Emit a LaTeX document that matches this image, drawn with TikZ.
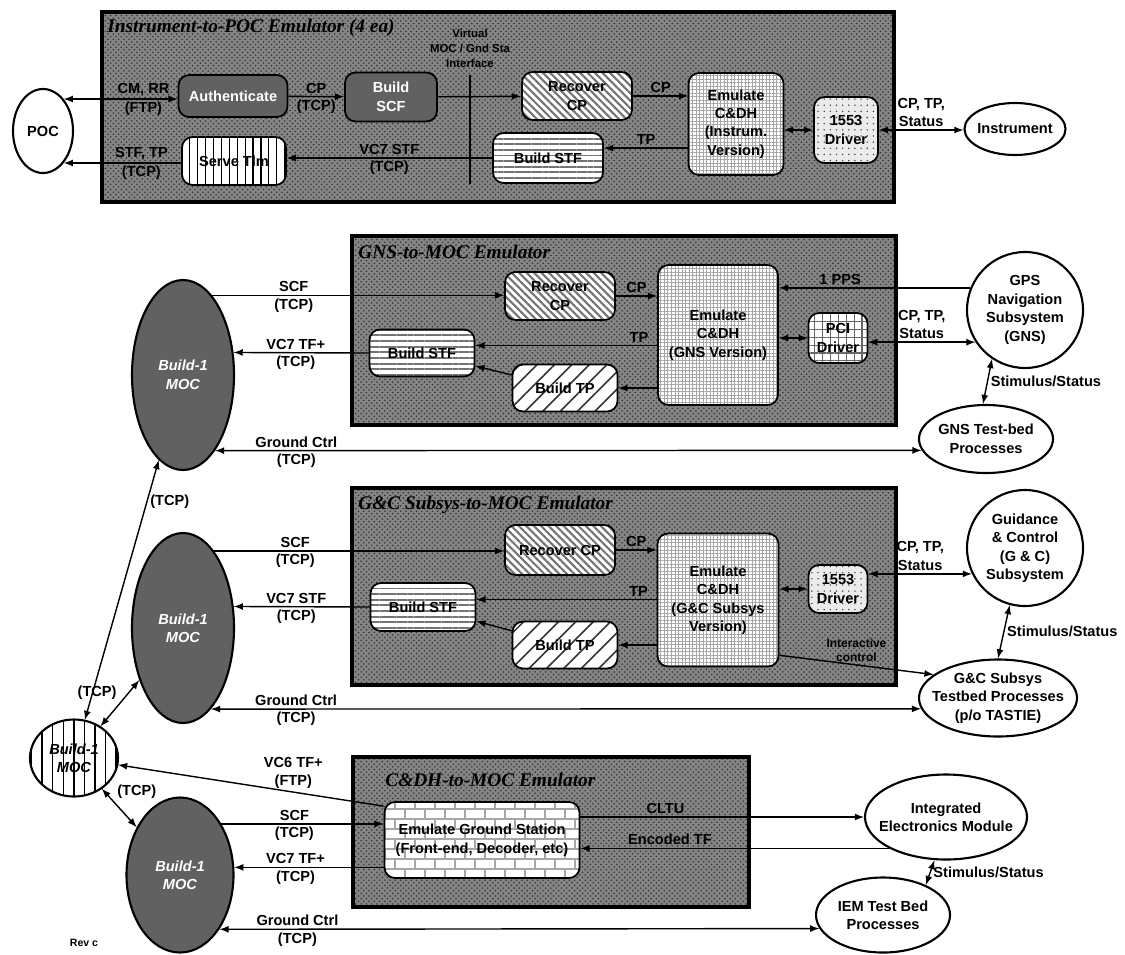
\documentclass[tikz,border=0pt]{standalone}
\usepackage{fontspec}
\setmainfont{Liberation Sans}
\newfontfamily\titlefont{Liberation Serif}
\usepackage{tikz}
\usetikzlibrary{patterns, patterns.meta, shapes.geometric, arrows}

\begin{document}
\begin{tikzpicture}[x=1cm, y=-1cm, >=latex,
    font=\bfseries\fontsize{8.3}{10.5}\selectfont,
    emulator/.style={rectangle, draw, line width=2pt, preaction={fill=black!48}, pattern=crosshatch dots, pattern color=black!80},
    boxtitle/.style={anchor=west, inner sep=0pt, font=\titlefont\bfseries\itshape\fontsize{11}{13}\selectfont},
    proc/.style={rectangle, rounded corners=6pt, draw, line width=1pt, align=center, inner sep=1pt},
    darkproc/.style={proc, fill=black!62, text=white},
    recover/.style={proc, preaction={fill=white}, pattern={Lines[angle=-45, distance=3pt, line width=1.2pt]}, pattern color=black!55},
    stfbox/.style={proc, preaction={fill=white}, pattern={Lines[angle=0, distance=3.2pt, line width=1.1pt]}, pattern color=black!55},
    tlmbox/.style={proc, preaction={fill=white}, pattern={Lines[angle=90, distance=4.5pt, line width=.7pt]}, pattern color=black},
    tpbox/.style={proc, preaction={fill=white}, pattern={Lines[angle=45, distance=7pt, line width=.9pt]}, pattern color=black!80},
    cdh/.style={proc, preaction={fill=white}, pattern={Hatch[angle=0, distance=2pt, line width=.35pt]}, pattern color=black!35},
    starbox/.style={proc, preaction={fill=black!8}, pattern={Dots[distance=3.5pt, radius=.45pt]}, pattern color=black!75},
    pcibox/.style={proc, preaction={fill=white}, pattern={Hatch[angle=0, distance=4.5pt, line width=.6pt]}, pattern color=black!60},
    gsbox/.style={proc, preaction={fill=white}, pattern=bricks, pattern color=black!35},
    ext/.style={ellipse, draw, line width=1.2pt, fill=white, align=center, inner sep=0pt},
    extc/.style={ext, circle},
    mocell/.style={ellipse, draw, line width=1.2pt, fill=black!62, text=white, align=center, font=\bfseries\itshape\fontsize{8.3}{10.5}\selectfont},
    mochub/.style={ellipse, draw, line width=1.2pt, preaction={fill=white}, pattern={Lines[angle=90, distance=6pt, line width=.8pt]}, pattern color=black, align=center, font=\bfseries\itshape\fontsize{8.3}{10.5}\selectfont},
    iface/.style={align=center, inner sep=0pt, font=\bfseries\fontsize{6.5}{8.5}\selectfont},
    link/.style={line width=.8pt},
    lbl/.style={inner sep=1.5pt, align=center},
    lblsmall/.style={lbl, font=\bfseries\fontsize{6.8}{7.8}\selectfont}
]
\useasboundingbox (0,0) rectangle (22.5,19.08);

\node[emulator, minimum width=15.84cm, minimum height=3.8cm] (instbox) at (9.96,2.14) {};
\node[boxtitle] (insttitle) at (2.14,0.56) {Instrument-to-POC Emulator (4 ea)};
\node[iface] (iface) at (9.4,0.96) {Virtual\\MOC / Gnd Sta\\Interface};
\node[ext, minimum width=1.2cm, minimum height=1.68cm] (poc) at (0.86,2.62) {POC};
\node[darkproc, minimum width=2.18cm, minimum height=0.84cm] (auth) at (4.66,1.92) {Authenticate};
\node[darkproc, minimum width=1.84cm, minimum height=0.98cm] (bscf) at (7.82,1.94) {Build\\SCF};
\node[recover, minimum width=2.2cm, minimum height=0.96cm] (recinst) at (11.54,1.92) {Recover\\CP};
\node[cdh, minimum width=1.9cm, minimum height=2.04cm] (emuinst) at (14.72,2.48) {Emulate\\C\&DH\\(Instrum.\\Version)};
\node[starbox, minimum width=1.28cm, minimum height=1.32cm] (drvinst) at (16.92,2.6) {1553\\Driver};
\node[ext, minimum width=2.02cm, minimum height=1.04cm, inner xsep=-4pt] (instr) at (20.3,2.58) {Instrument};
\node[tlmbox, minimum width=2.08cm, minimum height=0.96cm] (serve) at (4.68,3.22) {Serve Tlm};
\node[stfbox, minimum width=2.2cm, minimum height=1.0cm] (stfinst) at (10.96,3.16) {Build STF};

\draw[line width=.6pt] ([yshift=-0.15cm]iface.south) -- (iface.south |- stfinst.south);
\draw[link, <->] (poc.57) -- (poc.57 -| auth.west) node[lbl, above, pos=.7] {CM, RR} node[lbl, below, pos=.7] {(FTP)};
\draw[link, ->] (auth) -- (bscf) node[lbl, above, midway] {CP} node[lbl, below, midway] {(TCP)};
\draw[link, ->] (bscf) -- (recinst);
\draw[link, ->] (recinst.east) -- (recinst.east -| emuinst.west) node[lbl, above, midway] {CP};
\draw[link, ->] (emuinst.west |- stfinst.10) -- (stfinst.10) node[lbl, above, midway] {TP};
\draw[link, ->] (stfinst.west) -- (stfinst.west -| serve.east) node[lbl, above, midway] {VC7 STF} node[lbl, below, midway] {(TCP)};
\draw[link, ->] (poc.-57 -| serve.west) -- (poc.-57) node[lbl, above, pos=.34] {STF, TP} node[lbl, below, pos=.34] {(TCP)};
\draw[link, <->] (emuinst.east |- drvinst.west) -- (drvinst.west);
\draw[link, <->] (drvinst.east) -- (drvinst.east -| instr.west) node[lbl, above, midway] {CP, TP,\\Status};

\node[emulator, minimum width=10.88cm, minimum height=3.78cm] (gnsbox) at (12.48,6.61) {};
\node[boxtitle] (gnstitle) at (7.16,5.04) {GNS-to-MOC Emulator};
\node[recover, minimum width=2.2cm, minimum height=0.96cm] (recgns) at (11.2,5.92) {Recover\\CP};
\node[cdh, minimum width=2.4cm, minimum height=2.8cm] (emugns) at (14.36,6.7) {Emulate\\C\&DH\\(GNS Version)};
\node[pcibox, minimum width=1.18cm, minimum height=1.0cm] (drvgns) at (16.76,6.76) {PCI\\Driver};
\node[extc, minimum size=2.32cm] (gps) at (20.5,6.2) {GPS\\Navigation\\Subsystem\\(GNS)};
\node[stfbox, minimum width=2.1cm, minimum height=0.94cm] (stfgns) at (8.44,7.06) {Build STF};
\node[tpbox, minimum width=2.1cm, minimum height=0.94cm] (tpgns) at (11.3,7.76) {Build TP};
\node[mocell, minimum width=2.04cm, minimum height=3.8cm] (mocgns) at (3.66,7.5) {Build-1\\MOC};
\node[ext, minimum width=2.68cm, minimum height=1.36cm, inner xsep=-3pt] (gnstb) at (19.72,8.78) {GNS Test-bed\\Processes};

\draw[link, ->] (mocgns.70) -- (mocgns.70 -| recgns.west) node[lbl, above, pos=.28] {SCF} node[lbl, below, pos=.28] {(TCP)};
\draw[link, ->] (recgns.east) -- (recgns.east -| emugns.west) node[lbl, above, midway] {CP};
\draw[link, ->] (emugns.west |- stfgns.8) -- (stfgns.8) node[lbl, above, pos=.1] {TP};
\draw[link, ->] (emugns.west |- tpgns.east) -- (tpgns.east);
\draw[link, ->] (tpgns) -- (stfgns);
\draw[link, ->] (stfgns.west) -- (mocgns.24) node[lbl, above, pos=.54] {VC7 TF+} node[lbl, below, pos=.54] {(TCP)};
\draw[link, ->] (gps.158) -- (gps.158 -| emugns.east) node[lbl, above, pos=.68] {1 PPS};
\draw[link, <->] (emugns.east |- drvgns.west) -- (drvgns.west);
\draw[link, <->] (gps.213 -| drvgns.east) -- (gps.213) node[lbl, above, midway] {CP, TP,\\Status};
\draw[link, <->] (gps.236) -- (gnstb.95) node[lbl, right, midway] {Stimulus/Status};
\draw[link, <->] (mocgns.-67) -- (gnstb.190) node[lbl, above, pos=.115] {Ground Ctrl} node[lbl, below, pos=.115] {(TCP)};

\node[emulator, minimum width=10.88cm, minimum height=3.94cm] (gncbox) at (12.48,11.73) {};
\node[boxtitle] (gnctitle) at (7.16,10.1) {G\&C Subsys-to-MOC Emulator};
\node[recover, minimum width=2.2cm, minimum height=1.0cm] (recgnc) at (11.2,11.0) {Recover CP};
\node[cdh, minimum width=2.42cm, minimum height=2.66cm] (emugnc) at (14.36,12.0) {Emulate\\C\&DH\\(G\&C Subsys\\Version)};
\node[starbox, minimum width=1.18cm, minimum height=0.96cm] (drvgnc) at (16.76,11.78) {1553\\Driver};
\node[extc, minimum size=2.32cm] (gnc) at (20.5,10.96) {Guidance\\\& Control\\(G \& C)\\Subsystem};
\node[stfbox, minimum width=2.1cm, minimum height=0.96cm] (stfgnc) at (8.46,12.14) {Build STF};
\node[tpbox, minimum width=2.1cm, minimum height=0.94cm] (tpgnc) at (11.3,12.9) {Build TP};
\node[mocell, minimum width=2.04cm, minimum height=3.8cm] (mocgnc) at (3.66,12.56) {Build-1\\MOC};
\node[ext, minimum width=3.16cm, minimum height=1.54cm, inner xsep=-7pt] (gnctb) at (19.96,13.96) {G\&C Subsys\\Testbed Processes\\(p/o TASTIE)};

\draw[link, ->] (mocgnc.68) -- (mocgnc.68 -| recgnc.west) node[lbl, above, pos=.28] {SCF} node[lbl, below, pos=.28] {(TCP)};
\draw[link, ->] (recgnc.east) -- (recgnc.east -| emugnc.west) node[lbl, above, midway] {CP};
\draw[link, ->] (emugnc.west |- stfgnc.8) -- (stfgnc.8) node[lbl, above, pos=.1] {TP};
\draw[link, ->] (emugnc.west |- tpgnc.east) -- (tpgnc.east);
\draw[link, ->] (tpgnc) -- (stfgnc);
\draw[link, ->] (stfgnc.west) -- (mocgnc.23) node[lbl, above, pos=.54] {VC7 STF} node[lbl, below, pos=.54] {(TCP)};
\draw[link, <->] (emugnc.east |- drvgnc.west) -- (drvgnc.west);
\draw[link, <->] (gnc.206 -| drvgnc.east) -- (gnc.206) node[lbl, above, midway] {CP, TP,\\Status};
\draw[link, <->] (gnc.255) -- (gnctb.north) node[lbl, right, midway] {Stimulus/Status};
\draw[link, ->] (emugnc.-42) -- (gnctb.160) node[lblsmall, above, pos=.5] {Interactive\\control};
\draw[link, <->] (mocgnc.-71) -- (gnctb.188) node[lbl, above, pos=.12] {Ground Ctrl} node[lbl, below, pos=.12] {(TCP)};

\node[emulator, minimum width=7.92cm, minimum height=3.0cm] (cdhbox) at (11.02,16.64) {};
\node[boxtitle] (cdhtitle) at (7.7,15.6) {C\&DH-to-MOC Emulator};
\node[gsbox, minimum width=3.9cm, minimum height=1.52cm] (gs) at (9.64,16.8) {Emulate Ground Station\\(Front-end, Decoder, etc)};
\node[ext, minimum width=3.24cm, minimum height=1.7cm, inner xsep=-7pt] (iem) at (18.92,16.34) {Integrated\\Electronics Module};
\node[ext, minimum width=2.68cm, minimum height=1.5cm, inner xsep=-3pt] (iemtb) at (17.66,18.3) {IEM Test Bed\\Processes};
\node[mocell, minimum width=2.14cm, minimum height=3.1cm] (moccdh) at (3.6,17.5) {Build-1\\MOC};
\node[mochub, minimum width=1.76cm, minimum height=1.54cm] (hub) at (1.48,15.16) {Build-1\\MOC};
\node[font=\bfseries\fontsize{6}{7}\selectfont] (rev) at (1.68,18.86) {Rev c};

\draw[link, ->] (gs.east |- iem.west) -- (iem.west) node[lbl, above, pos=.3] {CLTU};
\draw[link, ->] (iem.209) -- (iem.209 -| gs.east) node[lbl, above, pos=.71] {Encoded TF};
\draw[link, <->] (iem.255) -- (iemtb.35) node[lbl, right, midway] {Stimulus/Status};
\draw[link, ->] (moccdh.51) -- (moccdh.51 -| gs.west) node[lbl, above, pos=.45] {SCF} node[lbl, below, pos=.45] {(TCP)};
\draw[link, ->] (moccdh.8 -| gs.west) -- (moccdh.8) node[lbl, above, pos=.59] {VC7 TF+} node[lbl, below, pos=.59] {(TCP)};
\draw[link, ->] (gs.161) -- (hub) node[lbl, above, pos=.34] {VC6 TF+\\(FTP)};
\draw[link, <->] (hub) -- (mocgns) node[lbl, right, pos=.84] {(TCP)};
\draw[link, <->] (hub) -- (mocgnc) node[lbl, above left, midway] {(TCP)};
\draw[link, <->] (hub) -- (moccdh) node[lbl, above right, pos=.35] {(TCP)};
\draw[link, <->] (moccdh.-54) -- (iemtb.192) node[lbl, above, pos=.13] {Ground Ctrl} node[lbl, below, pos=.13] {(TCP)};
\end{tikzpicture}
\end{document}
